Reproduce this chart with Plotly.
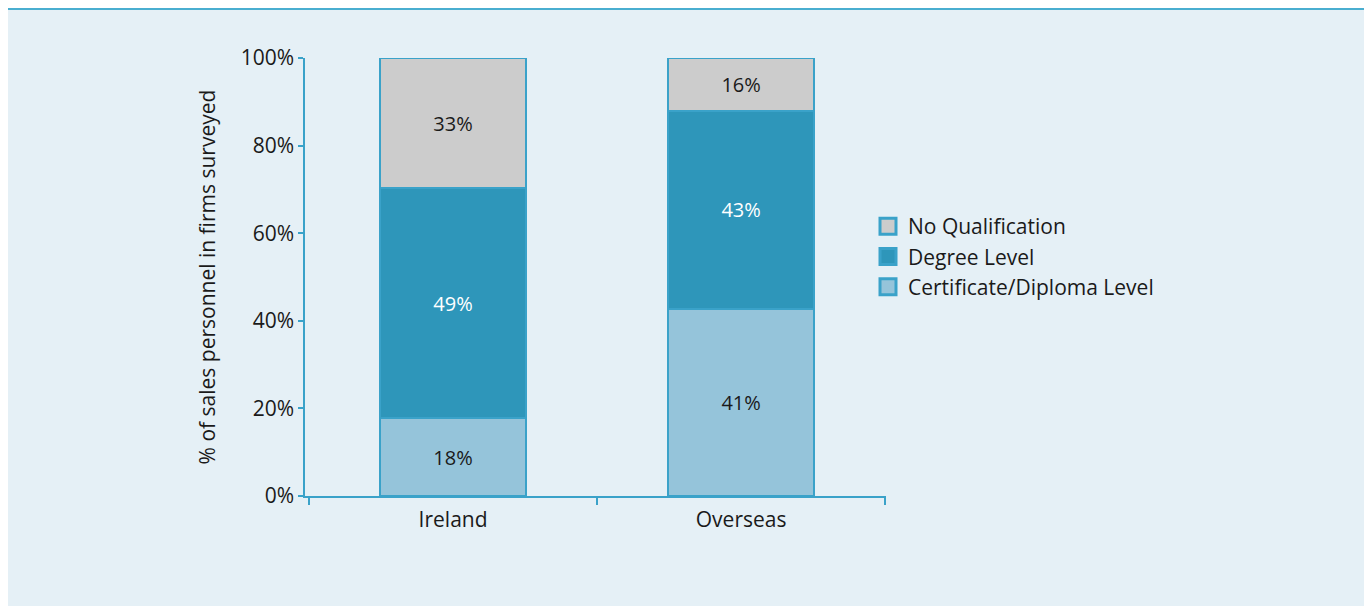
import plotly.graph_objects as go

categories = ["Ireland", "Overseas"]
series_names = ["Certificate/Diploma Level", "Degree Level", "No Qualification"]
# segment heights as drawn (% of bar)
cert_vals = [17.8, 42.7]
degree_vals = [52.5, 45.2]
noqual_vals = [29.7, 12.1]
# printed labels
cert_labels = ["18%", "41%"]
degree_labels = ["49%", "43%"]
noqual_labels = ["33%", "16%"]
y_ticks = [0, 20, 40, 60, 80, 100]
y_tick_labels = ["0%", "20%", "40%", "60%", "80%", "100%"]

colors = ["#95c4da", "#2e96ba", "#cccccc"]
text_colors = ["#1a1a1a", "#ffffff", "#1a1a1a"]
edge = "#3aa2c9"
panel = "#e5f0f6"
FONT = "Open Sans"
FS = 21

OFF = 8  # page body margin
W, H = 1372 - OFF, 606 - OFF
# plot area in page pixels
PL, PR, PT, PB = 305, 886, 58, 496
L, R, T, B = PL - OFF, PR - OFF, PT - OFF, PB - OFF

fig = go.Figure()
for name, vals, labels, c, tc in zip(series_names,
                                     [cert_vals, degree_vals, noqual_vals],
                                     [cert_labels, degree_labels, noqual_labels],
                                     colors, text_colors):
    fig.add_trace(go.Bar(
        x=categories, y=vals, name=name, text=labels,
        textposition="inside", insidetextanchor="middle",
        textfont=dict(color=tc, size=20, family=FONT),
        marker=dict(color=c, line=dict(color=edge, width=1.5)),
        width=0.507, hoverinfo="skip", showlegend=False, legendgroup=name,
    ))
# legend entries (square swatches with blue border)
for name, c in zip(series_names, colors):
    fig.add_trace(go.Scatter(
        x=[None], y=[None], mode="markers", name=name, legendgroup=name,
        marker=dict(symbol="square", size=16, color=c,
                    line=dict(color=edge, width=3)),
        showlegend=True, hoverinfo="skip",
    ))


def px2paper_x(px):
    return (px - OFF - L) / (R - L)


def px2paper_y(py):
    return (B - (py - OFF)) / (B - T)


fig.update_layout(
    width=W, height=H,
    margin=dict(l=L, r=W - R, t=T, b=H - B, pad=0),
    barmode="stack",
    paper_bgcolor="white",
    plot_bgcolor=panel,
    font=dict(family=FONT, size=FS, color="#1a1a1a"),
    showlegend=True,
    legend=dict(
        x=px2paper_x(868), y=px2paper_y(206), xanchor="left", yanchor="top",
        traceorder="reversed", bgcolor="rgba(0,0,0,0)",
        font=dict(size=FS, family=FONT, color="#1a1a1a"),
        itemwidth=30,
    ),
    shapes=[
        dict(type="rect", xref="paper", yref="paper", layer="below",
             x0=px2paper_x(5), x1=px2paper_x(1366),
             y0=px2paper_y(606), y1=px2paper_y(8),
             fillcolor=panel, line=dict(width=0)),
        dict(type="line", xref="paper", yref="paper", layer="above",
             x0=px2paper_x(5), x1=px2paper_x(1366),
             y0=px2paper_y(9), y1=px2paper_y(9),
             line=dict(color="#4aaed0", width=2)),
    ],
)

fig.update_xaxes(
    range=[-0.514, 1.503], showline=True, linecolor=edge, linewidth=1.5,
    ticks="outside", tickson="boundaries", ticklen=7, tickcolor=edge, tickwidth=1.5,
    showgrid=False, zeroline=False, ticklabelstandoff=4,
    tickfont=dict(size=FS, family=FONT, color="#1a1a1a"),
)
fig.update_yaxes(
    range=[0, 100], tickmode="array", tickvals=y_ticks, ticktext=y_tick_labels,
    showline=True, linecolor=edge, linewidth=1.5,
    ticks="outside", ticklen=5, tickcolor=edge, tickwidth=1.5,
    showgrid=False, zeroline=False,
    tickfont=dict(size=FS, family=FONT, color="#1a1a1a"),
    title=dict(text="% of sales personnel in firms surveyed",
               font=dict(size=FS, family=FONT, color="#1a1a1a"), standoff=19),
)

fig.write_html("out.html")
